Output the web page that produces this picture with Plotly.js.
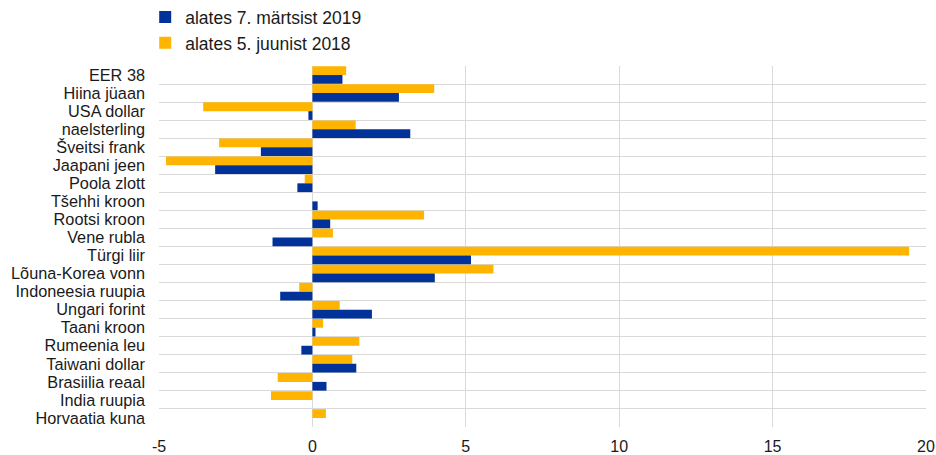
<!DOCTYPE html>
<html>
<head>
<meta charset="utf-8">
<script src="https://cdn.plot.ly/plotly-3.0.1.min.js"></script>
<style>html,body{margin:0;padding:0;background:#fff;}#chart{width:936px;height:455px;}</style>
</head>
<body>
<div id="chart"></div>
<script>
const categories = ["EER 38","Hiina jüaan","USA dollar","naelsterling","Šveitsi frank","Jaapani jeen","Poola zlott","Tšehhi kroon","Rootsi kroon","Vene rubla","Türgi liir","Lõuna-Korea vonn","Indoneesia ruupia","Ungari forint","Taani kroon","Rumeenia leu","Taiwani dollar","Brasiilia reaal","India ruupia","Horvaatia kuna"];
const sinceMar2019 = [0.98,2.82,-0.13,3.19,-1.68,-3.17,-0.49,0.17,0.58,-1.30,5.17,3.99,-1.05,1.94,0.10,-0.36,1.43,0.46,0.0,0.0];
const sinceJun2018 = [1.10,3.97,-3.56,1.41,-3.04,-4.77,-0.25,0.0,3.64,0.67,19.45,5.90,-0.43,0.89,0.35,1.53,1.30,-1.13,-1.35,0.44];
const seriesNames = ["alates 7. märtsist 2019","alates 5. juunist 2018"];
const xTicks = [-5,0,5,10,15,20];

const traces = [
  {type:"bar", orientation:"h", name:seriesNames[1], y:categories, x:sinceJun2018,
   marker:{color:"#FFB400", line:{width:0}}},
  {type:"bar", orientation:"h", name:seriesNames[0], y:categories, x:sinceMar2019,
   marker:{color:"#003299", line:{width:0}}}
];
const layout = {
  width:936, height:455,
  margin:{l:159, r:10, t:66, b:28, autoexpand:false},
  paper_bgcolor:"#fff", plot_bgcolor:"#fff",
  font:{family:"Liberation Sans, Arial, sans-serif", size:16, color:"#1a1a1a"},
  barmode:"group", bargap:0.03, bargroupgap:0,
  showlegend:true,
  legend:{traceorder:"reversed", orientation:"v", x:-0.018, xanchor:"left", y:1.185, yanchor:"top",
          font:{size:17.5}, itemwidth:30, tracegroupgap:0, bgcolor:"rgba(0,0,0,0)"},
  xaxis:{range:[-5,20], tickvals:xTicks, ticktext:xTicks.map(String), showgrid:true, gridcolor:"#d9d9d9", gridwidth:1,
         zeroline:true, zerolinecolor:"#d9d9d9", zerolinewidth:1, showline:false, ticks:"", fixedrange:true,
         tickfont:{size:16}, ticklabelstandoff:8, automargin:false},
  yaxis:{type:"category", autorange:"reversed", tickson:"boundaries", tickmode:"array", tickvals:categories, ticktext:categories,
         showgrid:true, gridcolor:"#d9d9d9", gridwidth:1,
         showline:false, ticks:"", zeroline:false, tickfont:{size:16.3}, ticklabelstandoff:13, automargin:false}
};
Plotly.newPlot("chart", traces, layout, {displayModeBar:false, staticPlot:true});
</script>
</body>
</html>
